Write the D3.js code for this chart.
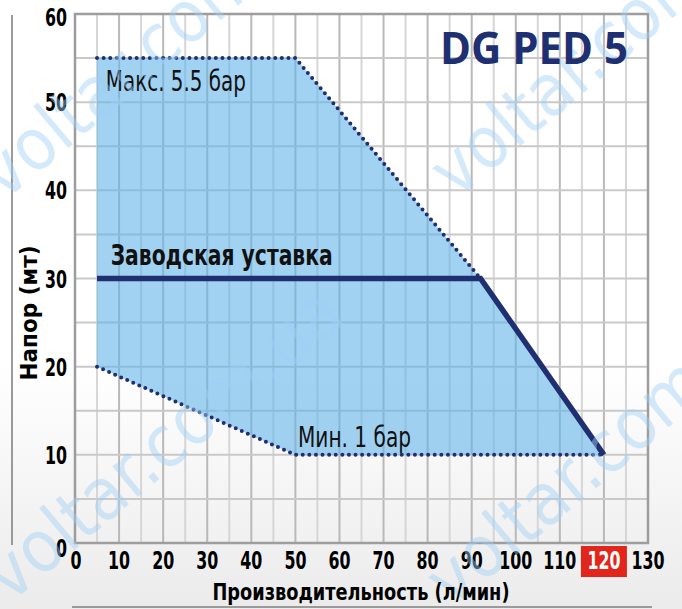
<!DOCTYPE html>
<html>
<head>
<meta charset="utf-8">
<script src="https://cdn.jsdelivr.net/npm/d3@7"></script>
<style>
  html, body { margin: 0; padding: 0; background: #fff; }
  text { font-family: "Liberation Sans Narrow", "DejaVu Sans Condensed", sans-serif; }
</style>
</head>
<body>
<div id="chart"></div>
<script>
// data
const xTicks = [0, 10, 20, 30, 40, 50, 60, 70, 80, 90, 100, 110, 120, 130];
const yTicks = [0, 10, 20, 30, 40, 50, 60];
const highlightTick = 120;

// working area (flow l/min, head m)
const areaPoints = [[5, 55], [50, 55], [92, 30], [120, 10], [50, 10], [5, 20]];
// max pressure 5.5 bar (dotted)
const maxLine = [[5, 55], [50, 55], [92, 30]];
// min pressure 1 bar (dotted)
const minLine = [[5, 20], [50, 10], [120, 10]];
// factory setting (solid)
const factoryLine = [[5, 30], [92, 30], [120, 10]];

const labels = [
  { text: "Макс. 5.5 бар", x: 7, y: 51.3, bold: false, len: 140 },
  { text: "Мин. 1 бар", x: 50.6, y: 10.9, bold: false, len: 113 },
  { text: "Заводская уставка", x: 8.1, y: 31.5, bold: true, len: 222 }
];

const width = 682, height = 609;
const margin = { top: 14, right: 34, bottom: 66, left: 75 };
const innerW = width - margin.left - margin.right;
const innerH = height - margin.top - margin.bottom;

const svg = d3.select("#chart").append("svg")
  .attr("width", width)
  .attr("height", height);

// light grey fade at the bottom of the page
const defs = svg.append("defs");
const grad = defs.append("linearGradient")
  .attr("id", "bg").attr("x1", 0).attr("y1", 0).attr("x2", 0).attr("y2", 1);
grad.append("stop").attr("offset", "0.6").attr("stop-color", "#ffffff");
grad.append("stop").attr("offset", "1").attr("stop-color", "#ebebeb");
svg.append("rect").attr("width", width).attr("height", height).attr("fill", "url(#bg)");

// decorative side / bottom rules
svg.append("line").attr("x1", 12).attr("x2", 12).attr("y1", 15).attr("y2", 545)
  .attr("stroke", "#9a9a9a").attr("stroke-width", 2);
svg.append("line").attr("x1", 72).attr("x2", 652).attr("y1", 607).attr("y2", 607)
  .attr("stroke", "#9a9a9a").attr("stroke-width", 2);

const g = svg.append("g").attr("transform", `translate(${margin.left},${margin.top})`);

const x = d3.scaleLinear().domain([0, 130]).range([0, innerW]);
const y = d3.scaleLinear().domain([0, 60]).range([innerH, 0]);

// grid every 5 units
const gridX = d3.range(5, 130, 5);
const gridY = d3.range(5, 60, 5);
g.selectAll(".gx").data(gridX).enter().append("line")
  .attr("x1", d => x(d)).attr("x2", d => x(d))
  .attr("y1", 0).attr("y2", innerH)
  .attr("stroke", d => d % 10 === 0 ? "#b9b9b9" : "#d6d6d6")
  .attr("stroke-width", 2);
g.selectAll(".gy").data(gridY).enter().append("line")
  .attr("x1", 0).attr("x2", innerW)
  .attr("y1", d => y(d)).attr("y2", d => y(d))
  .attr("stroke", "#c9c9c9")
  .attr("stroke-width", 2);

// working area
const line = d3.line().x(d => x(d[0])).y(d => y(d[1]));
g.append("path")
  .attr("d", line(areaPoints) + "Z")
  .attr("fill", "#62b4ea")
  .attr("fill-opacity", 0.6);

// frame
g.append("rect").attr("width", innerW).attr("height", innerH)
  .attr("fill", "none").attr("stroke", "#9d9d9d").attr("stroke-width", 2.5);

// watermark
const wm = [[4, 202], [10, 604], [456, 200], [452, 609]];
wm.forEach(p => {
  svg.append("text")
    .attr("transform", `translate(${p[0]},${p[1]}) rotate(-40)`)
    .attr("font-family", "Liberation Sans, sans-serif")
    .attr("font-size", 72)
    .attr("fill", "#9fd0f7")
    .attr("fill-opacity", 0.45)
    .text("voltar.com.ua");
});

// dotted pressure limits
[maxLine, minLine].forEach(pts => {
  g.append("path")
    .attr("d", line(pts))
    .attr("fill", "none")
    .attr("stroke", "#1f2f70")
    .attr("stroke-width", 4)
    .attr("stroke-linecap", "round")
    .attr("stroke-dasharray", "0 6.6");
});

// factory setting
g.append("path")
  .attr("d", line(factoryLine))
  .attr("fill", "none")
  .attr("stroke", "#1f2f70")
  .attr("stroke-width", 5.5);

// curve labels
labels.forEach(l => {
  g.append("text")
    .attr("x", x(l.x)).attr("y", y(l.y))
    .attr("font-size", l.bold ? 28 : 29)
    .attr("font-weight", l.bold ? "bold" : "normal")
    .attr("fill", "#111")
    .attr("textLength", l.len)
    .attr("lengthAdjust", "spacingAndGlyphs")
    .text(l.text);
});

// title
svg.append("text")
  .attr("x", 440).attr("y", 64)
  .attr("font-weight", "bold")
  .attr("font-size", 45)
  .attr("fill", "#1e2f72")
  .attr("textLength", 188)
  .attr("lengthAdjust", "spacingAndGlyphs")
  .style("font-family", "'Open Sans', sans-serif")
  .text("DG PED 5");

// tick label width like the narrow original face
const tickLen = d => String(d).length * 11;

// x tick labels
const xt = g.append("g");
xt.selectAll("rect").data(xTicks.filter(d => d === highlightTick)).enter().append("rect")
  .attr("x", d => x(d) - 23).attr("y", innerH + 3)
  .attr("width", 46).attr("height", 31)
  .attr("fill", "#e2261b");
xt.selectAll("text").data(xTicks).enter().append("text")
  .attr("x", d => x(d) + (d === 0 ? 1 : 0))
  .attr("y", innerH + 26)
  .attr("text-anchor", "middle")
  .attr("font-size", 24)
  .attr("font-weight", "bold")
  .attr("textLength", tickLen)
  .attr("lengthAdjust", "spacingAndGlyphs")
  .attr("fill", d => d === highlightTick ? "#fff" : "#000")
  .text(d => d);

// y tick labels
g.append("g").selectAll("text").data(yTicks).enter().append("text")
  .attr("x", -8)
  .attr("y", d => y(d) + (d === 0 ? 14 : d === 60 ? 12 : 9))
  .attr("text-anchor", "end")
  .attr("font-size", 24)
  .attr("font-weight", "bold")
  .attr("textLength", tickLen)
  .attr("lengthAdjust", "spacingAndGlyphs")
  .text(d => d);

// axis titles
svg.append("text")
  .attr("x", 361).attr("y", 600)
  .attr("text-anchor", "middle")
  .attr("font-size", 23)
  .attr("font-weight", "bold")
  .attr("textLength", 297)
  .attr("lengthAdjust", "spacingAndGlyphs")
  .text("Производительность (л/мин)");

svg.append("text")
  .attr("transform", "translate(37,313) rotate(-90)")
  .attr("text-anchor", "middle")
  .attr("font-size", 23)
  .attr("font-weight", "bold")
  .attr("textLength", 135)
  .attr("lengthAdjust", "spacingAndGlyphs")
  .text("Напор (мт)");
</script>
</body>
</html>
